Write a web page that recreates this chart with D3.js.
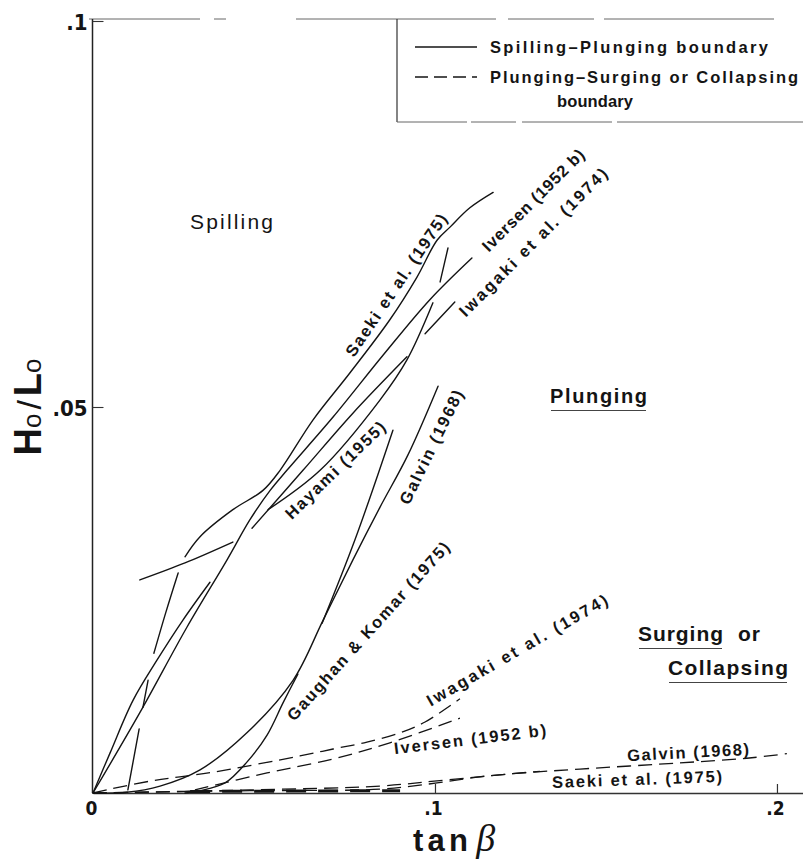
<!DOCTYPE html>
<html>
<head>
<meta charset="utf-8">
<script src="https://cdn.jsdelivr.net/npm/d3@7"></script>
<style>
  html, body { margin: 0; padding: 0; background: #fff; }
  svg { display: block; }
</style>
</head>
<body>
<svg id="chart" width="803" height="859"></svg>
<script>
// ---- axis ticks ----
const xTicks = [0, 0.1, 0.2];
const xTickLabels = ["0", ".1", ".2"];
const yTicks = [0.05, 0.1];
const yTickLabels = [".05", ".1"];

// ---- spilling–plunging boundaries (solid), each as one or more traced pieces ----
const saekiSpillPlunge = [
  [[0.0102, 0.0004], [0.0135, 0.0083]],
  [[0.0146, 0.0111], [0.0161, 0.0146]],
  [[0.0178, 0.0181], [0.0213, 0.0234], [0.0249, 0.0285]],
  [[0.0269, 0.0306], [0.0313, 0.0332], [0.0409, 0.0367], [0.0497, 0.0392], [0.0547, 0.0418],
   [0.0643, 0.0483], [0.0751, 0.0544], [0.0868, 0.0613], [0.0947, 0.0668], [0.1006, 0.0716],
   [0.1044, 0.0733], [0.1102, 0.0758], [0.1170, 0.0778]]
];
const iversenSpillPlunge = [
  [[0, 0], [0.0137, 0.0104], [0.0275, 0.0215], [0.0392, 0.0302], [0.0459, 0.0354],
   [0.0518, 0.0392], [0.0567, 0.0418], [0.0702, 0.0487], [0.0848, 0.0567], [0.0985, 0.0639],
   [0.1108, 0.0693]]
];
const originSteepSpillPlunge = [
  [[0, 0], [0.0050, 0.0052], [0.0117, 0.0120], [0.0187, 0.0172], [0.0263, 0.0224], [0.0342, 0.0273]]
];
const hayamiSpillPlunge = [
  [[0.0137, 0.0276], [0.0269, 0.0298], [0.0409, 0.0325]],
  [[0.0465, 0.0343], [0.0614, 0.0418], [0.0760, 0.0492], [0.0918, 0.0565]]
];
const iwagakiSpillPlunge = [
  [[0.0512, 0.0367], [0.0664, 0.0418], [0.0839, 0.0509], [0.0918, 0.0561], [0.0994, 0.0635]],
  [[0.1015, 0.0662], [0.1038, 0.0706]],
  [[0.0971, 0.0595], [0.1058, 0.0636]]
];
const gaughanKomarSpillPlunge = [
  [[0, 0], [0.0099, 0.0001], [0.0196, 0.0009], [0.0313, 0.0030], [0.0450, 0.0078],
   [0.0585, 0.0146], [0.0673, 0.0224], [0.0760, 0.0302], [0.0839, 0.0370], [0.0921, 0.0438],
   [0.1009, 0.0527]],
  [[0.0269, 0.0000], [0.0313, 0.0003], [0.0386, 0.0013], [0.0450, 0.0040], [0.0509, 0.0075],
   [0.0556, 0.0117], [0.0599, 0.0154]]
];
const galvinSpillPlunge = [
  [[0.0670, 0.0220], [0.0766, 0.0328], [0.0877, 0.0470]]
];

// ---- plunging–surging/collapsing boundaries (dashed) ----
const iwagakiPlungeSurge = [
  [[0, 0], [0.0050, 0.0005], [0.0175, 0.0016], [0.0254, 0.0021], [0.0351, 0.0027], [0.0605, 0.0048],
   [0.0702, 0.0057], [0.0801, 0.0066], [0.0898, 0.0078], [0.0971, 0.0092], [0.1073, 0.0122]]
];
const iversenPlungeSurge = [
  [[0.0298, 0.0004], [0.0509, 0.0026], [0.0702, 0.0044], [0.0868, 0.0065], [0.1073, 0.0097]]
];
const galvinPlungeSurge = [
  [[0, 0], [0.0459, 0.0004], [0.0839, 0.0009], [0.1035, 0.0017], [0.1228, 0.0025],
   [0.1424, 0.0031], [0.1716, 0.0039], [0.1912, 0.0045], [0.2029, 0.0051]]
];
const saekiPlungeSurge = [
  [[0, 0], [0.0459, 0.0003], [0.0839, 0.0005], [0.1006, 0.0013], [0.1132, 0.0021], [0.1307, 0.0028]]
];
const hayamiPlungeSurge = [
  [[0.0284, 0.0002], [0.0898, 0.0003]]
];

// ---- text ----
const legendLabels = ["Spilling\u2013Plunging  boundary", "Plunging\u2013Surging or Collapsing", "boundary"];
const regionLabels = ["Spilling", "Plunging", "Surging", "or", "Collapsing"];
const curveLabels = [
  "Saeki et al. (1975)", "Iversen (1952 b)", "Iwagaki et al. (1974)", "Hayami (1955)",
  "Galvin (1968)", "Gaughan & Komar (1975)", "Iwagaki et al. (1974)", "Iversen (1952 b)",
  "Galvin (1968)", "Saeki et al. (1975)"
];

// ---- drawing ----
const svg = d3.select("#chart");
const ink = "#141414";
const sans = "'Liberation Sans', Arial, Helvetica, sans-serif";
const narrow = "'Liberation Sans Narrow', 'DejaVu Sans Condensed', 'Liberation Sans', Arial, sans-serif";

const x = d3.scaleLinear().domain([0, 0.2082]).range([93, 805]);
const y = d3.scaleLinear().domain([0, 0.1]).range([793, 21]);

// frame top edge and legend box (printed rules with small breaks)
svg.append("line").attr("x1", 89).attr("x2", 803).attr("y1", 19).attr("y2", 19)
  .attr("stroke", "#666").attr("stroke-width", 1)
  .attr("stroke-dasharray", "111,14,12,70,200,12,86,10,170");
svg.append("line").attr("x1", 397).attr("x2", 397).attr("y1", 19).attr("y2", 122)
  .attr("stroke", "#333").attr("stroke-width", 1.2);
svg.append("line").attr("x1", 397).attr("x2", 803).attr("y1", 122).attr("y2", 122)
  .attr("stroke", "#666").attr("stroke-width", 1)
  .attr("stroke-dasharray", "70,4,45,6,90,5,200");

// x axis
const xAxis = svg.append("g").attr("transform", `translate(0,${y(0)})`)
  .call(d3.axisBottom(x).tickValues(xTicks).tickSize(-9).tickSizeOuter(0).tickPadding(9)
    .tickFormat((d, i) => xTickLabels[i]));
xAxis.select(".domain").attr("stroke", "#333").attr("stroke-width", 1.4);
xAxis.selectAll(".tick line").attr("stroke", "#333").attr("stroke-width", 1.2)
  .filter(d => d === 0).remove();
xAxis.selectAll(".tick text").attr("font-family", narrow).attr("font-weight", "bold")
  .attr("font-size", 19).attr("fill", ink).attr("dx", -2);

// y axis
const yAxis = svg.append("g").attr("transform", `translate(${x(0) - 0.5},0)`)
  .call(d3.axisLeft(y).tickValues(yTicks).tickSize(-11).tickSizeOuter(0).tickPadding(5)
    .tickFormat((d, i) => yTickLabels[i]));
yAxis.select(".domain").attr("stroke", "#222").attr("stroke-width", 1.5)
  .attr("d", `M0,${y(0)}V19`);
yAxis.selectAll(".tick line").attr("stroke", "#333").attr("stroke-width", 1.1);
yAxis.selectAll(".tick text").attr("font-family", narrow).attr("font-weight", "bold")
  .attr("font-size", 22).attr("fill", ink).attr("dy", "0.38em");

// boundary curves
const line = d3.line().x(d => x(d[0])).y(d => y(d[1])).curve(d3.curveCatmullRom.alpha(0.5));

const solid = [saekiSpillPlunge, iversenSpillPlunge, originSteepSpillPlunge, hayamiSpillPlunge,
               iwagakiSpillPlunge, gaughanKomarSpillPlunge, galvinSpillPlunge];
const dashed = [iwagakiPlungeSurge, iversenPlungeSurge, galvinPlungeSurge, saekiPlungeSurge];

const curves = svg.append("g").attr("fill", "none").attr("stroke", ink)
  .attr("stroke-linecap", "round").attr("stroke-linejoin", "round");
solid.forEach(series => series.forEach(seg =>
  curves.append("path").attr("d", line(seg)).attr("stroke-width", 1.4)));
dashed.forEach(series => series.forEach(seg =>
  curves.append("path").attr("d", line(seg)).attr("stroke-width", 1.3)
    .attr("stroke-linecap", "butt").attr("stroke-dasharray", "14,7")));
hayamiPlungeSurge.forEach(seg =>
  curves.append("path").attr("d", line(seg)).attr("stroke-width", 3)
    .attr("stroke-linecap", "butt").attr("stroke-dasharray", "20,12"));

// legend
const legend = svg.append("g");
legend.append("line").attr("x1", 415).attr("x2", 477).attr("y1", 47).attr("y2", 47)
  .attr("stroke", ink).attr("stroke-width", 1.4);
legend.append("line").attr("x1", 415).attr("x2", 477).attr("y1", 77).attr("y2", 77)
  .attr("stroke", ink).attr("stroke-width", 1.4).attr("stroke-dasharray", "13,6");
const legendLayout = [[490, 53, 278], [490, 83, 308], [557, 107, 76]];
legendLabels.forEach((t, i) => {
  const [lx, ly, len] = legendLayout[i];
  legend.append("text").attr("x", lx).attr("y", ly).text(t)
    .attr("font-family", sans).attr("font-weight", "bold").attr("font-size", 16.5)
    .attr("fill", ink).attr("textLength", len).attr("lengthAdjust", "spacing");
});

// region names
const regionLayout = [
  { x: 190, y: 229, len: 83, w: "normal", s: 21, u: false },
  { x: 550, y: 403, len: 97, w: "bold", s: 20, u: true },
  { x: 638, y: 641, len: 85, w: "bold", s: 21, u: true },
  { x: 738, y: 641, len: 22, w: "bold", s: 21, u: false },
  { x: 668, y: 675, len: 120, w: "bold", s: 21, u: true }
];
regionLabels.forEach((t, i) => {
  const r = regionLayout[i];
  svg.append("text").attr("x", r.x).attr("y", r.y).text(t)
    .attr("font-family", sans).attr("font-weight", r.w).attr("font-size", r.s)
    .attr("fill", ink).attr("textLength", r.len).attr("lengthAdjust", "spacing");
  if (r.u) {
    svg.append("line").attr("x1", r.x + 1).attr("x2", r.x + r.len - 1)
      .attr("y1", r.y + 7.5).attr("y2", r.y + 7.5)
      .attr("stroke", "#444").attr("stroke-width", 1.1);
  }
});

// labels written along the curves
const curveLabelLayout = [
  [396, 285, -56, 168], [533, 200, -45, 137], [533, 242, -45, 202], [335, 470, -44, 132],
  [431, 447, -64, 125], [368, 631, -48, 234], [517, 650, -30, 206], [470, 739, -7, 153],
  [688, 752, -3, 122], [637, 779, -2, 170]
];
curveLabels.forEach((t, i) => {
  const [cx, cy, ang, len] = curveLabelLayout[i];
  svg.append("text").attr("transform", `translate(${cx},${cy}) rotate(${ang})`)
    .attr("text-anchor", "middle").attr("dominant-baseline", "central")
    .attr("font-family", sans).attr("font-weight", "bold").attr("font-size", 16.5)
    .attr("fill", ink).attr("textLength", len).attr("lengthAdjust", "spacing").text(t);
});

// axis titles
const xt = svg.append("text").attr("x", 413).attr("y", 851).attr("fill", ink);
xt.append("tspan").attr("font-family", sans).attr("font-weight", "bold").attr("font-size", 31)
  .attr("textLength", 55).attr("lengthAdjust", "spacing").text("tan");
xt.append("tspan").attr("dx", 4).attr("font-family", "'Liberation Serif', 'DejaVu Serif', serif")
  .attr("font-style", "italic").attr("font-size", 38).text("\u03B2");

const yt = svg.append("text").attr("transform", "translate(41,407) rotate(-90)")
  .attr("text-anchor", "middle").attr("fill", ink).attr("font-family", sans);
yt.append("tspan").attr("font-weight", "bold").attr("font-size", 38).text("H");
yt.append("tspan").attr("font-size", 26).text("o");
yt.append("tspan").attr("font-size", 34).attr("dx", 4).text("/");
yt.append("tspan").attr("font-weight", "bold").attr("font-size", 38).attr("dx", 4).text("L");
yt.append("tspan").attr("font-size", 26).text("o");
</script>
</body>
</html>
